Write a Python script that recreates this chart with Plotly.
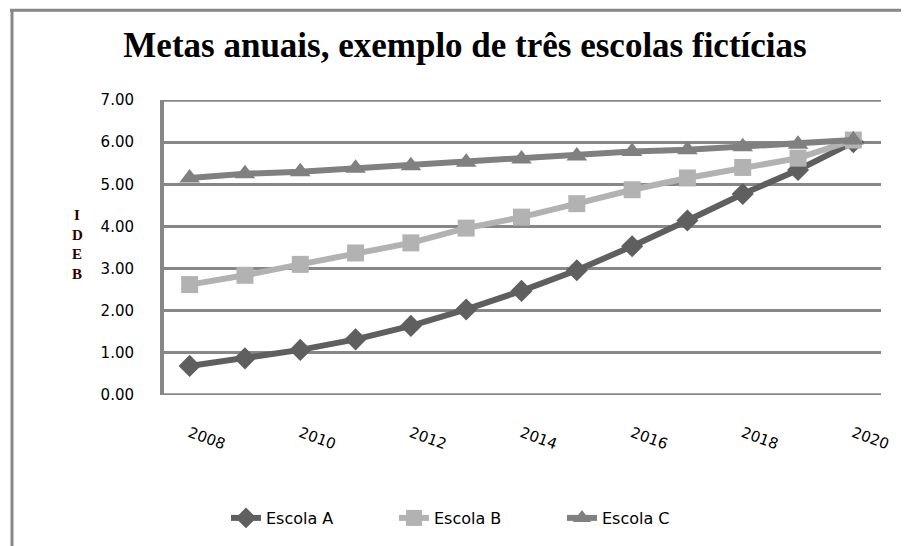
import plotly.graph_objects as go

years = [2008, 2009, 2010, 2011, 2012, 2013, 2014, 2015, 2016, 2017, 2018, 2019, 2020]
escola_a = [0.69, 0.87, 1.07, 1.32, 1.64, 2.03, 2.47, 2.96, 3.53, 4.14, 4.77, 5.34, 6.00]
escola_b = [2.62, 2.84, 3.10, 3.37, 3.61, 3.96, 4.22, 4.54, 4.87, 5.15, 5.40, 5.62, 6.05]
escola_c = [5.15, 5.25, 5.30, 5.38, 5.44, 5.52, 5.60, 5.67, 5.78, 5.82, 5.89, 5.95, 6.05]
tick_years = [2008, 2010, 2012, 2014, 2016, 2018, 2020]
y_ticks = [0, 1, 2, 3, 4, 5, 6, 7]
axis_letters = ["I", "D", "E", "B"]

OFF = 8  # default page body margin
PW, PH = 909, 546
W, H = PW - OFF, PH - OFF
# plot area in page pixels
L, R, T, B = 162, 881, 100, 396

def px_x(x):
    return (x - L) / (R - L)

def px_y(y):
    return (B - y) / (B - T)

fig = go.Figure()
series = [
    ("Escola A", escola_a, "#5f5f5f", "diamond", 17),
    ("Escola B", escola_b, "#b2b2b2", "square", 17),
    ("Escola C", escola_c, "#808080", "triangle-up", 18),
]
for name, vals, col, sym, ms in series:
    fig.add_trace(go.Scatter(
        x=years, y=vals, name=name, mode="lines+markers",
        line=dict(color=col, width=6),
        marker=dict(symbol=sym, size=ms, color=col),
    ))

grid_col = "#878787"
fig.update_layout(
    width=W, height=H,
    margin=dict(l=L - OFF, r=PW - R, t=T - OFF, b=PH - B),
    paper_bgcolor="white", plot_bgcolor="white",
    title=dict(text="Metas anuais, exemplo de três escolas fictícias",
               x=(465 - OFF) / W, xanchor="center", y=1 - (45 - OFF) / H, yanchor="middle",
               font=dict(family="Liberation Serif", size=35, color="black", weight="bold")),
    xaxis=dict(range=[2007.5, 2020.5], tickvals=tick_years,
               ticktext=[str(t) for t in tick_years], tickangle=20,
               showgrid=False, zeroline=False, showline=False,
               ticklabelstandoff=26,
               tickfont=dict(family="DejaVu Sans", size=15, color="black")),
    yaxis=dict(range=[0, 7], tickvals=y_ticks, tickformat=".2f",
               showgrid=True, gridcolor=grid_col, gridwidth=3,
               zeroline=False, showline=False,
               ticks="", ticklabelstandoff=27,
               tickfont=dict(family="DejaVu Sans", size=15, color="black")),
    legend=dict(orientation="h", x=px_x(478), xanchor="center",
                y=px_y(518), yanchor="middle",
                font=dict(family="DejaVu Sans", size=16, color="black"),
                entrywidth=123, tracegroupgap=0),
    showlegend=True,
)

# edge gridlines and left axis line
for yv in (0, 7):
    fig.add_shape(type="line", xref="paper", yref="y", x0=0, x1=1, y0=yv, y1=yv,
                  line=dict(color=grid_col, width=3.5), layer="below")
fig.add_shape(type="line", xref="paper", yref="y", x0=0, x1=0, y0=0, y1=7,
              line=dict(color=grid_col, width=4), layer="below")

# stacked vertical axis title
for i, ch in enumerate(axis_letters):
    fig.add_annotation(text=ch, xref="paper", yref="paper",
                       x=px_x(77), y=px_y(215 + i * 20), xanchor="center", yanchor="middle",
                       showarrow=False,
                       font=dict(family="Liberation Serif", size=15, color="#2a0000", weight="bold"))

# outer chart border (top and left edges)
fig.add_shape(type="line", xref="paper", yref="paper",
              x0=px_x(10), x1=px_x(PW + 5), y0=px_y(10), y1=px_y(10),
              line=dict(color=grid_col, width=3))
fig.add_shape(type="line", xref="paper", yref="paper",
              x0=px_x(12), x1=px_x(12), y0=px_y(9), y1=px_y(PH + 5),
              line=dict(color=grid_col, width=3))

fig.write_html("out.html")
